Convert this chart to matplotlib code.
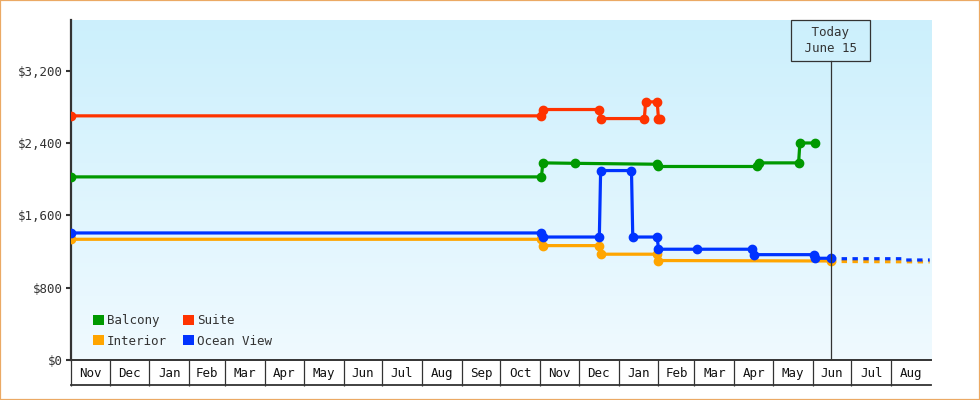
import matplotlib
matplotlib.use("Agg")
import matplotlib.pyplot as plt
import matplotlib.dates as mdates
import matplotlib.transforms as mtransforms
from matplotlib.patches import Patch, Rectangle
from matplotlib.lines import Line2D
from matplotlib.ticker import FuncFormatter
import numpy as np
import pandas as pd

# ---------------- data ----------------
balcony_dates = ["2016-11-01", "2017-11-02", "2017-11-03", "2017-11-28", "2018-01-31",
                 "2018-02-01", "2018-04-19", "2018-04-20", "2018-05-21", "2018-05-22", "2018-06-03"]
balcony = [2025, 2025, 2180, 2175, 2165, 2140, 2140, 2180, 2180, 2400, 2400]

suite_dates = ["2016-11-01", "2017-11-02", "2017-11-03", "2017-12-17", "2017-12-18",
               "2018-01-21", "2018-01-22", "2018-01-31", "2018-02-01", "2018-02-02"]
suite = [2700, 2700, 2770, 2770, 2670, 2670, 2855, 2855, 2670, 2670]

interior_dates = ["2016-11-01", "2017-11-02", "2017-11-03", "2017-12-17", "2017-12-18",
                  "2018-01-31", "2018-02-01", "2018-06-15"]
interior = [1335, 1335, 1265, 1265, 1170, 1170, 1100, 1095]

ocean_dates = ["2016-11-01", "2017-11-02", "2017-11-03", "2017-12-17", "2017-12-18",
               "2018-01-11", "2018-01-12", "2018-01-31", "2018-02-01", "2018-03-03",
               "2018-04-15", "2018-04-16", "2018-06-02", "2018-06-03", "2018-06-15"]
ocean = [1405, 1405, 1360, 1360, 2095, 2095, 1360, 1360, 1225, 1225,
         1225, 1165, 1165, 1125, 1125]

# forecast (dotted) after today
interior_fc_dates = ["2018-06-15", "2018-08-31"]
interior_fc = [1090, 1085]
ocean_fc_dates = ["2018-06-15", "2018-08-10", "2018-08-11", "2018-08-31"]
ocean_fc = [1120, 1120, 1106, 1106]

today = "2018-06-15"
today_label = " Today \n June 15 "
x_start, x_end = "2016-11-01", "2018-09-01"
y_ticks = [0, 800, 1600, 2400, 3200]

series_names = ["Balcony", "Interior", "Suite", "Ocean View"]
colors = {"Balcony": "#009900", "Suite": "#FF3300", "Interior": "#FFA500", "Ocean View": "#0033FF"}

# ---------------- style ----------------
MONO = "DejaVu Sans Mono"
TXT = "#333333"
plt.rcParams["font.family"] = [MONO, "DejaVu Sans"]

def d(lst):
    return mdates.date2num(pd.to_datetime(lst).to_pydatetime())

fig = plt.figure(figsize=(9.8, 4.0), dpi=100)
fig.patch.set_facecolor("white")
ax = fig.add_axes([71 / 980, 40 / 400, 860 / 980, 340 / 400])

# gradient background
top_c = np.array([0.80, 0.94, 0.99])
bot_c = np.array([0.94, 0.98, 1.00])
t = np.linspace(0, 1, 256)[:, None, None]
grad = top_c * (1 - t) + bot_c * t
ax.imshow(grad, extent=[0, 1, 0, 1], transform=ax.transAxes, aspect="auto", zorder=0)

lw = 2.3
ms = 6
ax.plot(d(interior_dates), interior, color=colors["Interior"], lw=lw, marker="o", ms=ms, zorder=3)
ax.plot(d(interior_fc_dates), interior_fc, color=colors["Interior"], lw=lw, dashes=(1.7, 1.7), zorder=3)
ax.plot(d(ocean_dates), ocean, color=colors["Ocean View"], lw=lw, marker="o", ms=ms, zorder=4)
ax.plot(d(ocean_fc_dates), ocean_fc, color=colors["Ocean View"], lw=lw, dashes=(1.7, 1.7), zorder=4)
ax.plot(d(balcony_dates), balcony, color=colors["Balcony"], lw=lw, marker="o", ms=ms, zorder=4)
ax.plot(d(suite_dates), suite, color=colors["Suite"], lw=lw, marker="o", ms=ms, zorder=4)

ax.set_xlim(d([x_start])[0], d([x_end])[0])
ax.set_ylim(0, 3760)

# spines
for s in ["top", "right"]:
    ax.spines[s].set_visible(False)
ax.spines["left"].set_color(TXT)
ax.spines["left"].set_linewidth(1.6)
ax.spines["bottom"].set_color(TXT)
ax.spines["bottom"].set_linewidth(1.4)

# y axis
ax.set_yticks(y_ticks)
ax.yaxis.set_major_formatter(FuncFormatter(lambda v, p: f"${v:,.0f}"))
ax.tick_params(axis="y", length=3.8, width=1.5, color=TXT, pad=2, labelsize=9, labelcolor=TXT)

# x axis month cells
months = pd.date_range(x_start, x_end, freq="MS")
starts = months[:-1]
mids = starts + (months[1:] - months[:-1]) / 2
ax.set_xticks(d(starts))
ax.set_xticks(d(mids), minor=True)
ax.set_xticklabels([m.strftime("%b") for m in starts], minor=True)
ax.tick_params(axis="x", which="major", length=18.5, width=0.9, color=TXT, labelbottom=False)
ax.tick_params(axis="x", which="minor", length=0, pad=5, labelsize=9, labelcolor="#111111")
ax.add_line(Line2D([0, 1], [-25 / 340, -25 / 340], transform=ax.transAxes, color=TXT,
                   lw=1.3, clip_on=False))

# today marker
tx = d([today])[0]
box_h = 41 / 340
ax.axvline(tx, ymin=0, ymax=1 - box_h, color=TXT, lw=0.9, zorder=5)
blend = mtransforms.blended_transform_factory(ax.transData, ax.transAxes)
ax.text(tx, 1 - box_h / 2, today_label, transform=blend, ha="center", va="center",
        multialignment="center", fontsize=9, color=TXT, linespacing=1.35, zorder=6,
        bbox=dict(boxstyle="square,pad=0.45", fc="none", ec=TXT, lw=0.9))

# legend
handles = [Patch(facecolor=colors[n], edgecolor="none", label=n) for n in series_names]
ax.legend(handles=handles, ncol=2, loc="lower left", bbox_to_anchor=(0.0256, 0.036),
          frameon=False, prop={"family": MONO, "size": 9}, handlelength=0.85,
          handleheight=0.85, handletextpad=0.25, columnspacing=1.3, labelspacing=0.6,
          borderpad=0, borderaxespad=0, labelcolor=TXT)

# outer border
fig.add_artist(Rectangle((0, 0), 1, 1, transform=fig.transFigure, fill=False,
                         ec="#EBA964", lw=1.6))

fig.savefig("out.png", dpi=100)
